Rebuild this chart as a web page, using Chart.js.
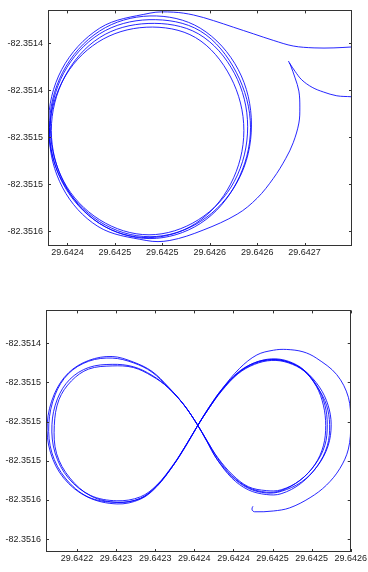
<!DOCTYPE html>
<html>
<head>
<meta charset="utf-8">
<script src="https://cdn.jsdelivr.net/npm/chart.js@4.4.0/dist/chart.umd.min.js"></script>
<style>
  html, body { margin: 0; padding: 0; background: #fff; }
  body { width: 368px; height: 572px; position: relative; overflow: hidden; }
  canvas { position: absolute; left: 0; }
  #circleChart { top: 0; }
  #eightChart { top: 300px; }
</style>
</head>
<body>
<canvas id="circleChart" width="368" height="262"></canvas>
<canvas id="eightChart" width="368" height="268"></canvas>
<script>
// GPS tracks. Points are [lat, lon] offsets in micro-degrees from each plot's base point.

// ---- top plot: circling ----
const CIRCLE_LAT0 = 29.6424;
const CIRCLE_LON0 = -82.3514;
const circleLatTicks = [29.6424, 29.64245, 29.6425, 29.64255, 29.6426, 29.64265];
const circleLatLabels = ['29.6424', '29.6425', '29.6425', '29.6426', '29.6426', '29.6427'];
const circleLonTicks = [-82.3514, -82.35145, -82.3515, -82.35155, -82.3516];
const circleLonLabels = ['-82.3514', '-82.3514', '-82.3515', '-82.3515', '-82.3516'];
const circleLatRange = [29.6423795, 29.6427];
const circleLonRange = [-82.3516159, -82.3513651];

const approach = [[300,-4],[281,-5],[260,-5],[238,-3],[217,3],[196,10],[175,17],[154,24],[133,30],[112,33]];
const loop1 = [[87,32],[34,16],[-6,-28],[-20,-87],[-6,-146],[34,-190],[87,-206],[140,-190],[180,-146],[194,-87],[180,-28],[140,16]];
const loop2 = [[87,29],[34,13],[-5,-31],[-19,-90],[-5,-149],[34,-192],[87,-208],[140,-192],[178,-149],[193,-90],[178,-31],[140,13]];
const loop3 = [[86,25],[34,10],[-4,-32],[-18,-89],[-4,-147],[34,-188],[86,-204],[138,-188],[176,-147],[190,-89],[176,-32],[138,10]];
const loop4 = [[85,21],[34,6],[-3,-36],[-17,-93],[-3,-150],[34,-192],[85,-207],[135,-192],[172,-150],[186,-93],[172,-36],[135,6]];
const loop5 = [[83,17],[32,1],[-5,-40],[-19,-97],[-5,-154],[32,-195],[83,-210]];
const departure = [[108,-210],[143,-199],[179,-182],[200,-165],[217,-144],[230,-123],[238,-106],[244,-85],[245,-68],[244,-51],[240,-37],[235,-23],[233,-19]];
const spur = [[234,-21],[240,-30],[247,-39],[258,-47],[270,-52],[284,-56],[299,-57]];

// ---- bottom plot: figure eight ----
const EIGHT_LAT0 = 29.6422;
const EIGHT_LON0 = -82.3514;
const eightLatTicks = [29.6422, 29.64225, 29.6423, 29.64235, 29.6424, 29.64245, 29.6425, 29.64255];
const eightLatLabels = ['29.6422', '29.6423', '29.6423', '29.6424', '29.6424', '29.6425', '29.6425', '29.6426'];
const eightLonTicks = [-82.3514, -82.35145, -82.3515, -82.35155, -82.3516, -82.35165];
const eightLonLabels = ['-82.3514', '-82.3515', '-82.3515', '-82.3515', '-82.3516', '-82.3516'];
const eightLatRange = [29.6421604, 29.64255];
const eightLonRange = [-82.3516663, -82.3513582];

const eightR1 = [[155,-104],[168,-84],[185,-60],[206,-38],[227,-26],[249,-21],[270,-24],[291,-35],[310,-56],[321,-79],[325,-104],[321,-131],[308,-156],[287,-177],[261,-189],[242,-191],[219,-185],[198,-170],[179,-148],[166,-125]];
const eightL1 = [[154,-104],[137,-79],[117,-56],[96,-36],[72,-24],[45,-17],[15,-22],[-11,-38],[-29,-65],[-38,-102],[-34,-139],[-17,-172],[13,-196],[51,-205],[81,-199],[102,-183],[123,-156],[140,-129]];
const eightR2 = [[155,-104],[168,-84],[185,-61],[206,-39],[227,-27],[249,-22],[270,-25],[291,-36],[308,-57],[319,-79],[323,-104],[320,-131],[307,-157],[286,-179],[261,-192],[242,-193],[219,-187],[198,-172],[179,-148],[166,-125]];
const eightL2 = [[154,-104],[137,-79],[117,-57],[96,-37],[72,-25],[45,-19],[15,-23],[-11,-39],[-28,-66],[-36,-103],[-32,-140],[-15,-172],[14,-196],[51,-203],[81,-198],[102,-182],[123,-156],[140,-129]];
const eightR3 = [[155,-104],[168,-83],[185,-59],[206,-37],[227,-25],[249,-20],[270,-23],[290,-34],[307,-55],[317,-79],[320,-104],[317,-130],[305,-154],[285,-175],[261,-187],[242,-188],[219,-183],[199,-168],[180,-146],[166,-124]];
const eightL3 = [[154,-104],[137,-79],[117,-57],[96,-41],[72,-30],[45,-27],[15,-31],[-9,-46],[-25,-71],[-32,-104],[-28,-140],[-11,-172],[17,-194],[51,-201],[81,-196],[102,-181],[123,-155],[140,-129]];
const eightR4 = [[155,-104],[168,-84],[185,-60],[206,-38],[227,-25],[249,-21],[270,-24],[290,-35],[306,-55],[315,-79],[318,-105],[315,-131],[304,-155],[285,-175],[261,-188],[242,-190],[219,-184],[198,-169],[180,-147],[166,-124]];
const eightL4 = [[154,-104],[137,-79],[117,-57],[96,-42],[72,-31],[45,-29],[15,-33],[-7,-48],[-23,-72],[-29,-105],[-26,-141],[-9,-172],[18,-195],[52,-203],[81,-198],[102,-182],[123,-156],[140,-130]];
const spiralOut = [[155,-104],[168,-83],[185,-59],[208,-32],[230,-15],[251,-9],[268,-8],[289,-11],[306,-19],[332,-40],[347,-69],[350,-102],[347,-135],[336,-160],[319,-181],[298,-197],[272,-210],[251,-214],[227,-215],[224,-213],[224,-210],[225,-208]];

const TRACK_COLOR = 'rgba(0, 0, 255, 0.85)';
const TICK_LEN = 3;
const FONT = { family: '"Liberation Sans", Arial, sans-serif', size: 9 };

function toPoints(lat0, lon0, parts) {
  return parts.flat().map(([a, b]) => ({ x: lat0 + a * 1e-6, y: lon0 + b * 1e-6 }));
}

function track(data) {
  return {
    data,
    showLine: true,
    borderColor: TRACK_COLOR,
    borderWidth: 1,
    pointRadius: 0,
    tension: 0.35,
    fill: false,
  };
}

// box round the plot, with short inward ticks on all four sides
const matlabFrame = {
  id: 'matlabFrame',
  afterDatasetsDraw(chart) {
    const { ctx, chartArea: a, scales: { x, y } } = chart;
    ctx.save();
    ctx.strokeStyle = '#333';
    ctx.lineWidth = 1;
    ctx.beginPath();
    x.ticks.forEach((t) => {
      const px = Math.round(x.getPixelForValue(t.value)) + 0.5;
      ctx.moveTo(px, a.bottom); ctx.lineTo(px, a.bottom - TICK_LEN);
      ctx.moveTo(px, a.top); ctx.lineTo(px, a.top + TICK_LEN);
    });
    y.ticks.forEach((t) => {
      const py = Math.round(y.getPixelForValue(t.value)) + 0.5;
      ctx.moveTo(a.left, py); ctx.lineTo(a.left + TICK_LEN, py);
      ctx.moveTo(a.right, py); ctx.lineTo(a.right - TICK_LEN, py);
    });
    ctx.stroke();
    ctx.strokeRect(Math.round(a.left) + 0.5, Math.round(a.top) + 0.5,
      Math.round(a.width) - 1, Math.round(a.height) - 1);
    ctx.restore();
  },
};

function axis(range, ticks, labels, fitSize, horizontal, pad) {
  return {
    type: 'linear',
    min: range[0],
    max: range[1],
    grid: { display: false, drawTicks: false },
    border: { display: false },
    afterBuildTicks: (s) => { s.ticks = ticks.map((v) => ({ value: v })); },
    afterFit: (s) => { if (horizontal) s.height = fitSize; else s.width = fitSize; },
    ticks: {
      autoSkip: false,
      maxRotation: 0,
      padding: pad,
      color: '#222',
      font: FONT,
      callback: (v, i) => labels[i],
    },
  };
}

function makeChart(id, datasets, xs, ys, padding) {
  return new Chart(document.getElementById(id), {
    type: 'scatter',
    data: { datasets },
    options: {
      responsive: false,
      animation: false,
      layout: { padding },
      plugins: { legend: { display: false }, tooltip: { enabled: false } },
      scales: { x: xs, y: ys },
    },
    plugins: [matlabFrame],
  });
}

makeChart('circleChart',
  [
    track(toPoints(CIRCLE_LAT0, CIRCLE_LON0, [approach, loop1, loop2, loop3, loop4, loop5, departure])),
    track(toPoints(CIRCLE_LAT0, CIRCLE_LON0, [spur])),
  ],
  axis(circleLatRange, circleLatTicks, circleLatLabels, 16, true, 1),
  axis(circleLonRange, circleLonTicks, circleLonLabels, 48, false, 5),
  { top: 4, right: 16, bottom: 0, left: 0 });

makeChart('eightChart',
  [
    track(toPoints(EIGHT_LAT0, EIGHT_LON0, [eightR1, eightL1, eightR2, eightL2, eightR3, eightL3, eightR4, eightL4, spiralOut])),
  ],
  axis(eightLatRange, eightLatTicks, eightLatLabels, 16, true, 1),
  axis(eightLonRange, eightLonTicks, eightLonLabels, 46, false, 5),
  { top: 4, right: 17, bottom: 0, left: 0 });
</script>
</body>
</html>
